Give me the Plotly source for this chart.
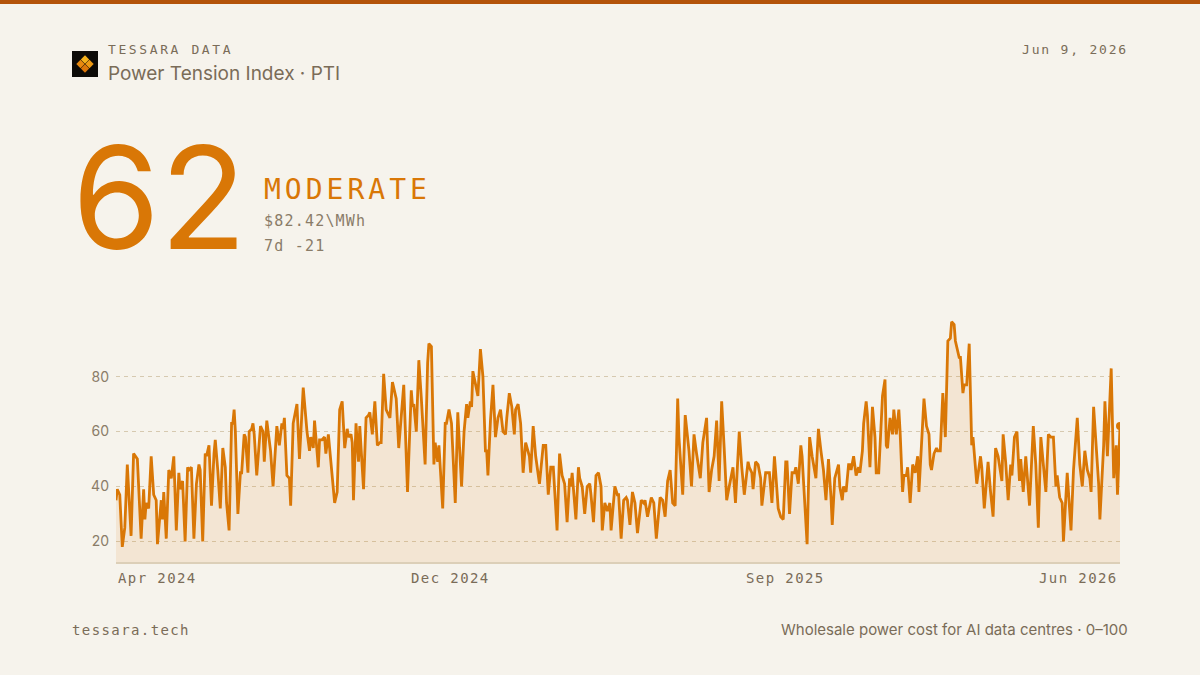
import pandas as pd
import plotly.graph_objects as go

# Power Tension Index, readings taken roughly every other day
start_date = "2024-04-01"

day = [
    0, 1, 3, 5, 7, 9, 12, 14, 17, 20, 22, 23, 24, 26, 28, 30, 32, 33, 36, 37,
    38, 40, 42, 44, 46, 48, 50, 51, 53, 55, 57, 58, 60, 62, 64, 66, 67, 69, 71, 72,
    74, 76, 78, 79, 81, 83, 85, 87, 88, 90, 92, 93, 94, 95, 97, 99, 100, 102, 103, 105,
    106, 108, 109, 110, 112, 114, 115, 117, 118, 120,
    123, 125, 128, 130, 132, 133, 134, 136, 138, 139, 141, 144, 146, 149, 152, 154, 155, 157, 158, 161,
    162, 164, 166, 167, 169, 170, 174, 176, 178, 180, 182, 184, 185, 187, 188, 189, 191, 193, 194, 197,
    199, 201, 202, 204, 206, 208, 210, 211, 213, 215, 218, 220, 222, 223, 225, 229, 232, 235, 236, 237,
    239, 241, 243, 246, 248, 249, 251,
    253, 254, 256, 257, 260, 262, 263, 265, 267, 270, 272, 275, 277, 279, 280, 282, 283, 284, 285, 288,
    290, 292, 294, 295, 296, 298, 300, 302, 304, 306, 308, 310, 311, 313, 315, 317, 318, 320, 322, 324,
    326, 327, 329, 330, 332, 334, 335, 337, 340, 342, 344, 346, 348, 351, 353, 355, 357, 359, 361, 362,
    363, 366, 368, 369, 371, 373, 375, 377, 378, 380, 382, 384, 386,
    387, 389, 391, 393, 394, 397, 399, 400, 402, 404, 406, 407, 409, 411, 413, 415, 418, 420, 421, 423,
    426, 428, 430, 433, 435, 437, 439, 441, 443, 445, 447, 448, 451, 453, 456, 458, 460, 462, 465, 467,
    470, 472, 474, 476, 478, 480, 482, 484, 486, 488, 491, 493, 496, 498, 500, 503, 504, 506, 507, 509,
    511, 513, 514, 517, 518, 520,
    522, 524, 525, 527, 529, 531, 533, 534, 536, 538, 540, 541, 543, 545, 546, 548, 550, 552, 554, 557,
    559, 561, 563, 565, 567, 569, 570, 572, 575, 576, 578, 579, 581, 583, 584, 585, 587, 589, 591, 592,
    594, 595, 597, 598, 600, 602, 604, 605, 607, 610, 612, 613, 614, 616, 618, 619, 621, 623, 624, 626,
    627, 629, 630, 632, 634, 636, 638, 639, 641, 643, 645, 647, 648, 649, 651, 653, 654, 656,
    658, 660, 662, 664, 665, 667, 668, 671, 672, 674, 675, 677, 679, 681, 682, 685, 688, 689, 691, 694,
    696, 698, 700, 702, 705, 706, 708, 710, 712, 713, 715, 717, 719, 720, 722, 724, 727, 730, 732, 734,
    736, 738, 740, 742, 744, 746, 748, 749, 751, 753, 754, 757, 758, 760, 762, 765, 767, 769, 771, 773,
    775, 776, 778, 780, 782, 783, 786, 787, 789, 792, 794, 796, 797, 799,
]

pti = [
    35, 39, 37, 18, 25, 48, 22, 52, 50, 21, 39, 28, 34, 32, 51, 37, 35, 19, 35, 28,
    38, 21, 46, 43, 51, 24, 45, 39, 42, 20, 47, 46, 47, 21, 41, 48, 46, 20, 52, 51,
    55, 33, 52, 57, 46, 32, 54, 47, 34, 24, 63, 63, 68, 60, 30, 45, 45, 59, 58, 45,
    60, 61, 63, 59, 44, 58, 62, 60, 49, 64,
    53, 40, 62, 55, 63, 61, 65, 44, 43, 33, 63, 70, 50, 76, 60, 53, 58, 54, 64, 47,
    57, 57, 58, 52, 59, 54, 34, 38, 68, 71, 54, 61, 58, 59, 56, 35, 63, 49, 62, 39,
    65, 66, 67, 59, 71, 55, 56, 56, 81, 68, 65, 78, 73, 72, 54, 77, 38, 75, 69, 70,
    60, 86, 72, 48, 85, 92, 91,
    48, 56, 49, 55, 32, 63, 63, 68, 63, 34, 67, 40, 60, 70, 65, 71, 69, 82, 80, 73,
    90, 80, 53, 53, 44, 64, 77, 58, 65, 68, 60, 59, 65, 74, 69, 59, 68, 70, 63, 45,
    56, 54, 51, 45, 62, 51, 48, 41, 55, 55, 37, 47, 47, 24, 52, 44, 41, 27, 43, 40,
    45, 28, 47, 43, 40, 30, 40, 41, 37, 27, 44, 45, 40,
    24, 34, 31, 34, 24, 40, 37, 37, 21, 35, 36, 35, 26, 38, 34, 23, 35, 34, 35, 29,
    36, 34, 21, 36, 35, 29, 42, 46, 34, 33, 72, 58, 37, 66, 53, 40, 59, 52, 43, 56,
    65, 38, 46, 51, 64, 42, 71, 54, 35, 40, 47, 34, 60, 47, 37, 49, 47, 45, 39, 49,
    48, 43, 33, 45, 45, 45,
    34, 51, 45, 32, 29, 28, 49, 49, 30, 45, 45, 47, 41, 55, 51, 36, 19, 58, 51, 43,
    61, 53, 46, 35, 50, 36, 26, 43, 48, 40, 35, 40, 38, 48, 48, 46, 51, 44, 47, 45,
    53, 63, 71, 66, 47, 69, 58, 45, 45, 73, 79, 55, 54, 65, 59, 68, 59, 68, 60, 38,
    44, 44, 47, 34, 48, 45, 51, 38, 57, 72, 62, 59, 48, 46, 52, 54, 53, 53,
    74, 58, 93, 94, 100, 99, 93, 87, 87, 74, 77, 77, 92, 55, 58, 41, 51, 47, 32, 49,
    38, 29, 54, 51, 42, 59, 49, 35, 48, 44, 58, 60, 42, 50, 38, 51, 33, 62, 48, 25,
    58, 48, 38, 59, 58, 58, 40, 44, 36, 34, 20, 45, 38, 24, 46, 65, 48, 40, 53, 46,
    43, 38, 69, 55, 41, 28, 55, 71, 51, 83, 43, 55, 37, 62,
]

y_ticks = [20, 40, 60, 80]

headline_score = "62"
headline_level = "MODERATE"
headline_price = "$82.42\\MWh"
headline_change = "7d -21"
as_of = "Jun 9, 2026"

dates = pd.Timestamp(start_date) + pd.to_timedelta(day, unit="D")

BG = "#f6f3ec"
ORANGE = "#d97706"
INK = "#7a6c58"
MUTED = "#8a7c68"
MONO = "DejaVu Sans Mono"
SANS = "Inter"

W, H = 1200, 675
L, R, T, B = 116, 80, 319, 113


def px(x):
    return (x - L) / (W - L - R)


def py(y):
    return (H - B - y) / (H - T - B)


def spaced(s, gap):
    return f'<span style="letter-spacing:{gap}px">{s}</span>'


fig = go.Figure()

fig.add_trace(go.Scatter(
    x=dates, y=pti,
    mode="lines",
    line=dict(color=ORANGE, width=2.8),
    fill="tozeroy",
    fillcolor="rgba(217,119,6,0.11)",
    hoverinfo="skip",
    showlegend=False,
))

fig.add_trace(go.Scatter(
    x=[dates[-1]], y=[pti[-1]],
    mode="markers",
    marker=dict(color=ORANGE, size=8),
    showlegend=False,
))

shapes = [
    # top accent bar
    dict(type="rect", xref="paper", yref="paper",
         x0=px(0), x1=px(W), y0=py(0), y1=py(4),
         fillcolor="#b45309", line_width=0, layer="above"),
    # logo square
    dict(type="rect", xref="paper", yref="paper",
         x0=px(72), x1=px(98), y0=py(51), y1=py(77),
         fillcolor="#0d0b08", line_width=0, layer="above"),
]


def diamond(cx, cy, h, color):
    path = (f"M {px(cx)},{py(cy - h)} L {px(cx + h)},{py(cy)} "
            f"L {px(cx)},{py(cy + h)} L {px(cx - h)},{py(cy)} Z")
    return dict(type="path", xref="paper", yref="paper", path=path,
                fillcolor=color, line_width=0, layer="above")


shapes += [
    diamond(85, 59.5, 4.2, "#f5b11c"),
    diamond(80.5, 64, 4.2, "#e8890f"),
    diamond(89.5, 64, 4.2, "#ee9a14"),
    diamond(85, 68.5, 4.2, "#dc760a"),
]


def text(x, y, s, size, color, family, xanchor="left", yanchor="middle"):
    return dict(xref="paper", yref="paper", x=px(x), y=py(y), text=s,
                showarrow=False, xanchor=xanchor, yanchor=yanchor,
                font=dict(size=size, color=color, family=family))


annotations = [
    text(106, 49, spaced("TESSARA DATA", 2.6), 13, INK, MONO),
    text(106, 74, "Power Tension Index · PTI", 19, INK, SANS),
    text(1130, 49, spaced(as_of, 1.8), 13, INK, MONO, xanchor="right"),
    text(70, 197, headline_score, 142, ORANGE, SANS),
    text(262, 189, spaced(headline_level, 4), 28, ORANGE, MONO),
    text(262, 221, spaced(headline_price, 1.2), 15, MUTED, MONO),
    text(262, 246, spaced(headline_change, 1.2), 15, MUTED, MONO),
    text(70, 630, spaced("tessara.tech", 1.4), 14, INK, MONO),
    text(1130, 629, "Wholesale power cost for AI data centres · 0–100", 15, INK, SANS,
         xanchor="right"),
]

# date labels at the ends and thirds of the range
span = dates[-1] - dates[0]
tick_dates = [dates[0] + span * k / 3 for k in range(4)]
anchors = ["left", "center", "center", "right"]
for d, a in zip(tick_dates, anchors):
    annotations.append(dict(
        xref="x", yref="paper", x=d, y=py(578), text=spaced(d.strftime("%b %Y"), 1.4),
        showarrow=False, xanchor=a, yanchor="middle",
        font=dict(size=14, color=INK, family=MONO),
    ))

fig.update_layout(
    width=W, height=H,
    margin=dict(l=L, r=R, t=T, b=B),
    paper_bgcolor=BG, plot_bgcolor=BG,
    shapes=shapes,
    annotations=annotations,
    xaxis=dict(
        type="date", range=[dates[0], dates[-1]],
        showgrid=False, zeroline=False, showticklabels=False, ticks="",
        showline=True, linecolor="#dccfb8", linewidth=2,
    ),
    yaxis=dict(
        range=[12.5, 101], tickvals=y_ticks,
        showgrid=True, gridcolor="#d6c9b0", gridwidth=1, griddash="4px,4px",
        zeroline=False, ticks="", showline=False,
        tickfont=dict(size=14, color=MUTED, family=SANS),
        ticklabelstandoff=6,
    ),
    showlegend=False,
)

fig.write_html("out.html", config={"displayModeBar": False},
               post_script="document.body.style.margin='0';")
